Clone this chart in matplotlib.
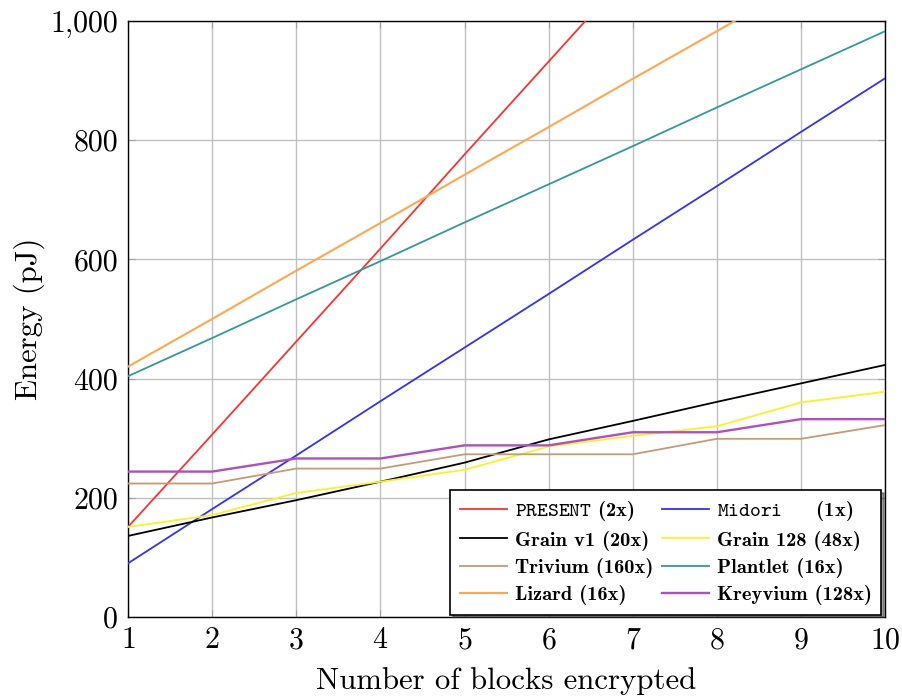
import numpy as np
import matplotlib
matplotlib.use("Agg")
import matplotlib.pyplot as plt
from matplotlib.ticker import FuncFormatter

plt.rcParams['font.family'] = ['cmr10', 'DejaVu Serif']
plt.rcParams['mathtext.fontset'] = 'cm'
plt.rcParams['axes.formatter.use_mathtext'] = True

blocks = np.arange(1, 11)

# energy in pJ per number of blocks
present = [151, 306, 462, 618, 776, 932, 1088, 1244, 1400, 1556]
midori = [90, 181, 271, 362, 452, 542, 633, 723, 814, 904]
grain_v1 = [136, 167, 196, 227, 259, 298, 329, 361, 392, 423]
grain_128 = [151, 171, 208, 227, 247, 286, 304, 320, 360, 378]
trivium = [224, 224, 249, 249, 273, 273, 273, 299, 299, 322]
plantlet = [404, 468, 533, 597, 662, 726, 790, 855, 919, 983]
lizard = [420, 500, 581, 661, 742, 822, 903, 983, 1064, 1144]
kreyvium = [244, 244, 266, 266, 288, 288, 310, 310, 332, 332]

labels = [r'$\mathtt{PRESENT}$ (2x)', r'$\mathtt{Midori}$     (1x)',
          'Grain v1 (20x)', 'Grain 128 (48x)',
          'Trivium (160x)', 'Plantlet (16x)',
          'Lizard (16x)', 'Kreyvium (128x)']

fig = plt.figure(figsize=(9.03, 6.96), dpi=100)
ax = fig.add_axes([0.1417, 0.1135, 0.8386, 0.8563])

series = [
    (present, '#ff3030', 1.3),
    (midori, '#3030ff', 1.3),
    (grain_v1, 'black', 1.3),
    (grain_128, '#f8f420', 1.3),
    (trivium, '#c89a70', 1.3),
    (plantlet, '#2f9a9a', 1.3),
    (lizard, '#ffa850', 1.5),
    (kreyvium, '#b050c0', 1.7),
]
handles = []
for (vals, color, lw), lab in zip(series, labels):
    h, = ax.plot(blocks, vals, color=color, lw=lw, label=lab, zorder=3)
    handles.append(h)

ax.set_xlim(1, 10)
ax.set_ylim(0, 1000)
ax.set_xticks(blocks)
ax.set_yticks(np.arange(0, 1001, 200))
ax.yaxis.set_major_formatter(FuncFormatter(lambda v, p: f'{int(v):,}'))
ax.grid(True, color='#c0c0c0', lw=1.0, zorder=0)
ax.tick_params(direction='in', length=5, color='#a0a0a0', labelsize=21.5,
               top=True, right=True, pad=7)
for s in ax.spines.values():
    s.set_linewidth(1.0)

ax.set_xlabel('Number of blocks encrypted', fontsize=22.2, labelpad=9)
ax.set_ylabel('Energy (pJ)', fontsize=22.2, labelpad=4)

# legend order matches reference (row-wise)
order = [0, 2, 4, 6, 1, 3, 5, 7]
leg = ax.legend([handles[i] for i in order], [labels[i] for i in order],
                ncol=2, loc='lower right', bbox_to_anchor=(0.995, 0.004),
                fontsize=14.8, frameon=True, fancybox=False, edgecolor='black',
                handlelength=2.3, columnspacing=0.4, handletextpad=0.4,
                labelspacing=0.36, borderpad=0.45, borderaxespad=0.0,
                shadow={'color': '0.25'})
leg.get_frame().set_linewidth(1.2)
leg.set_zorder(5)
for t in leg.get_texts():
    t.set_family(['cmb10', 'cmr10'])

fig.savefig('out.png', dpi=100)
